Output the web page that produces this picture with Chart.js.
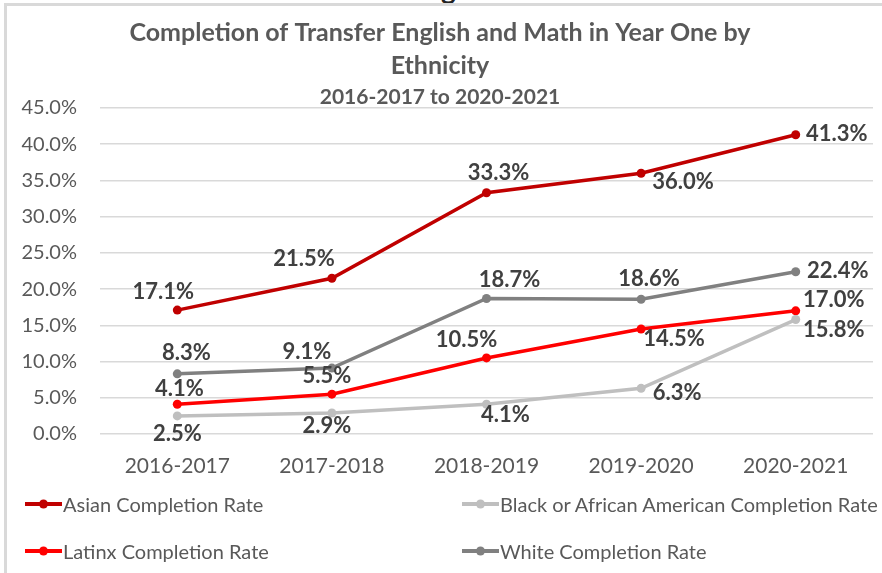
<!DOCTYPE html>
<html>
<head>
  <title>Completion of Transfer English and Math in Year One by Ethnicity</title>
  <script src="https://cdn.jsdelivr.net/npm/chart.js@4"></script>
  <style>
    html, body {
      margin: 0;
      padding: 0;
      background: #fff;
    }
    #cut {
      position: absolute;
      left: 441px;
      top: -26px;
      font: bold 28px/28px Lato, sans-serif;
      color: #222;
    }
    #wrap {
      position: relative;
      width: 882px;
      height: 573px;
      overflow: hidden;
      box-sizing: border-box;
      border-top: 3px solid #d9d9d9;
      border-left: 3px solid #d9d9d9;
      margin-left: 4px;
      margin-top: 3px;
    }
    #legend {
      position: absolute;
      left: 0;
      top: 0;
      font-family: Lato, "Open Sans", sans-serif;
      font-size: 20px;
      color: #595959;
    }
    .item {
      position: absolute;
      white-space: nowrap;
      display: flex;
      align-items: center;
    }
    .item canvas {
      margin-right: 1px;
    }
  </style>
</head>
<body>
  <span id="cut">g</span>
  <div id="wrap">
    <canvas id="chart" width="875" height="567"></canvas>
    <div id="legend"></div>
  </div>

  <script>
    // data
    var years = ['2016-2017', '2017-2018', '2018-2019', '2019-2020', '2020-2021'];
    var asian = [17.1, 21.5, 33.3, 36.0, 41.3];
    var black = [2.5, 2.9, 4.1, 6.3, 15.8];
    var latinx = [4.1, 5.5, 10.5, 14.5, 17.0];
    var white = [8.3, 9.1, 18.7, 18.6, 22.4];
    var yTicks = [0, 5, 10, 15, 20, 25, 30, 35, 40, 45];

    // where each value label sits relative to its point (dx, dy)
    var labelOffsets = [
      [[-10, -15], [-24, -16], [16, -17], [46, 12], [45, 2]],
      [[4, 21], [-1, 16], [23, 14], [40, 8], [42, 13]],
      [[6, -12], [-1, -15], [-16, -15], [37, 13], [42, -8]],
      [[13, -18], [-21, -13], [27, -16], [12, -17], [46, 2]]
    ];

    var FONT = 'Lato, "Open Sans", sans-serif';

    var valueLabels = {
      id: 'valueLabels',
      afterDatasetsDraw: function(chart) {
        var ctx = chart.ctx;
        ctx.save();
        ctx.font = 'bold 22px ' + FONT;
        ctx.fillStyle = '#404040';
        ctx.textAlign = 'center';
        ctx.textBaseline = 'middle';
        chart.data.datasets.forEach(function(ds, i) {
          var meta = chart.getDatasetMeta(i);
          meta.data.forEach(function(pt, j) {
            var off = labelOffsets[i][j];
            ctx.fillText(ds.data[j].toFixed(1) + '%', pt.x + off[0] - 4, pt.y + off[1] - 3);
          });
        });
        ctx.restore();
      }
    };

    function series(label, data, color) {
      return {
        label: label,
        data: data,
        borderColor: color,
        backgroundColor: color,
        borderWidth: 3.5,
        pointRadius: 4.5,
        pointBorderWidth: 0,
        tension: 0
      };
    }

    var ctx = document.getElementById('chart').getContext('2d');
    var myChart = new Chart(ctx, {
      type: 'line',
      data: {
        labels: years,
        datasets: [
          series('Asian Completion Rate', asian, '#c00000'),
          series('Black or African American Completion Rate', black, '#bfbfbf'),
          series('Latinx Completion Rate', latinx, '#ff0000'),
          series('White Completion Rate', white, '#808080')
        ]
      },
      options: {
        responsive: false,
        animation: false,
        layout: {
          padding: { left: 0, right: 9, top: 0, bottom: 60 }
        },
        plugins: {
          legend: { display: false },
          tooltip: { enabled: false },
          title: {
            display: true,
            text: ['Completion of Transfer English and Math in Year One by', 'Ethnicity'],
            color: '#595959',
            font: { family: FONT, size: 25, weight: 'bold', lineHeight: 1.32 },
            padding: { top: 10, bottom: 0 }
          },
          subtitle: {
            display: true,
            text: '2016-2017 to 2020-2021',
            color: '#595959',
            font: { family: FONT, size: 21, weight: 'bold', lineHeight: 1.0 },
            padding: { top: 5, bottom: 0 }
          }
        },
        scales: {
          x: {
            offset: true,
            grid: { display: false, drawTicks: false },
            border: { display: false },
            afterFit: function(axis) { axis.height = 79; },
            ticks: {
              color: '#595959',
              font: { family: FONT, size: 21 },
              padding: 20
            }
          },
          y: {
            min: 0,
            max: 45,
            afterBuildTicks: function(axis) {
              axis.ticks = yTicks.map(function(v) { return { value: v }; });
            },
            afterFit: function(axis) { axis.width = 93; },
            grid: { color: '#d9d9d9', lineWidth: 1.5, drawTicks: false },
            border: { display: false },
            ticks: {
              color: '#595959',
              font: { family: FONT, size: 20 },
              padding: 23,
              callback: function(v) { return v.toFixed(1) + '%'; }
            }
          }
        }
      },
      plugins: [valueLabels]
    });

    // legend laid out in two columns like the original
    var legendPos = [[18, 486], [455, 486], [18, 533], [455, 533]];
    var legend = document.getElementById('legend');
    myChart.data.datasets.forEach(function(ds, i) {
      var item = document.createElement('div');
      item.className = 'item';
      item.style.left = legendPos[i][0] + 'px';
      item.style.top = legendPos[i][1] + 'px';
      var c = document.createElement('canvas');
      c.width = 37;
      c.height = 14;
      var g = c.getContext('2d');
      g.strokeStyle = ds.borderColor;
      g.lineWidth = 4;
      g.beginPath();
      g.moveTo(0, 7);
      g.lineTo(37, 7);
      g.stroke();
      g.fillStyle = ds.borderColor;
      g.beginPath();
      g.arc(18.5, 7, 4.5, 0, Math.PI * 2);
      g.fill();
      item.appendChild(c);
      var t = document.createElement('span');
      t.textContent = ds.label;
      item.appendChild(t);
      legend.appendChild(item);
    });
  </script>
</body>
</html>
